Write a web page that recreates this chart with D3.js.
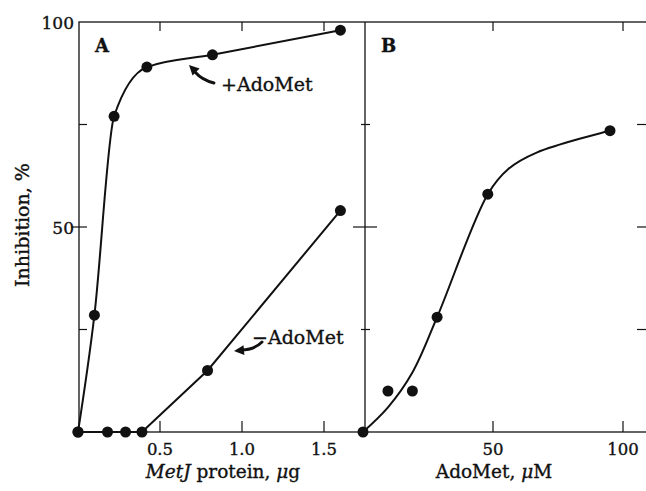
<!DOCTYPE html>
<html>
<head>
<meta charset="utf-8">
<script src="https://cdn.jsdelivr.net/npm/d3@7"></script>
<style>
  body { margin: 0; background: #fff; }
  text { font-family: "DejaVu Serif", "Liberation Serif", serif; fill: #111; stroke: #111; stroke-width: 0.35; }
</style>
</head>
<body>
<svg id="chart" width="646" height="491"></svg>
<script>
// panel A: MetJ protein (ug) vs inhibition (%)
const plusX = [0, 0.1, 0.22, 0.42, 0.82, 1.6];
const plusY = [0, 28.5, 77, 89, 92, 98];
const minusX = [0, 0.18, 0.29, 0.39, 0.79, 1.6];
const minusY = [0, 0, 0, 0, 15, 54];
const aTicks = [0.5, 1.0, 1.5];

// panel B: AdoMet (uM) vs inhibition (%)
const bX = [0, 9.6, 19, 28.5, 48, 95];
const bY = [0, 10, 10, 28, 58, 73.5];
// smooth curve drawn through these (the two low points sit off the curve)
const bCurveX = [0, 9.6, 19, 28.5, 48, 56, 67, 95];
const bCurveY = [0, 6, 14.5, 28, 58, 64.2, 68.2, 73.5];
const bTicks = [50, 100];

const yTicks = [25, 50, 75];
const yLabels = [50, 100];

const svg = d3.select("#chart");
const yTop = 22, yBottom = 432;

const y = d3.scaleLinear().domain([0, 100]).range([yBottom, yTop]);
const xA = d3.scaleLinear().domain([0, 1.75]).range([78, 365]);
const xB = d3.scaleLinear().domain([0, 110]).range([363, 649]);

const ink = "#111";

// frame
svg.append("rect")
  .attr("x", 79).attr("y", yTop)
  .attr("width", 600).attr("height", yBottom - yTop)
  .attr("fill", "none").attr("stroke", ink).attr("stroke-width", 1.3);
svg.append("line")
  .attr("x1", 365).attr("x2", 365).attr("y1", yTop).attr("y2", yBottom)
  .attr("stroke", ink).attr("stroke-width", 1.3);

// y ticks: left edge inward, divider crosses, right edge inward
yTicks.forEach((t) => {
  let big = t === 50;
  svg.append("line")
    .attr("x1", big ? 71 : 79).attr("x2", 87)
    .attr("y1", y(t)).attr("y2", y(t))
    .attr("stroke", ink).attr("stroke-width", 1.2);
  svg.append("line")
    .attr("x1", big ? 353 : 361).attr("x2", big ? 377 : 370)
    .attr("y1", y(t)).attr("y2", y(t))
    .attr("stroke", ink).attr("stroke-width", 1.2);
  svg.append("line")
    .attr("x1", 637).attr("x2", 646)
    .attr("y1", y(t)).attr("y2", y(t))
    .attr("stroke", ink).attr("stroke-width", 1.2);
});

svg.selectAll(".ylab")
  .data(yLabels)
  .enter()
  .append("text")
  .attr("x", 74)
  .attr("y", (d) => y(d) + 7)
  .attr("text-anchor", "end")
  .attr("font-size", 17)
  .text((d) => d);

// x ticks on top and bottom
function xTicks(scale, ticks, fmt) {
  ticks.forEach((t) => {
    svg.append("line")
      .attr("x1", scale(t)).attr("x2", scale(t))
      .attr("y1", yBottom).attr("y2", yBottom - 11)
      .attr("stroke", ink).attr("stroke-width", 1.2);
    svg.append("line")
      .attr("x1", scale(t)).attr("x2", scale(t))
      .attr("y1", yTop).attr("y2", yTop + 9)
      .attr("stroke", ink).attr("stroke-width", 1.2);
    svg.append("text")
      .attr("x", scale(t))
      .attr("y", 455)
      .attr("text-anchor", "middle")
      .attr("font-size", 16.5)
      .text(fmt(t));
  });
}
xTicks(xA, aTicks, d3.format(".1f"));
xTicks(xB, bTicks, (d) => d);

// axis titles
svg.append("text")
  .attr("transform", "translate(29,225) rotate(-90)")
  .attr("text-anchor", "middle")
  .attr("font-size", 19)
  .text("Inhibition, %");

let tA = svg.append("text")
  .attr("x", 223).attr("y", 478)
  .attr("text-anchor", "middle")
  .attr("font-size", 18.5);
tA.append("tspan").attr("font-style", "italic").text("MetJ");
tA.append("tspan").text(" protein, ");
tA.append("tspan").attr("font-style", "italic").text("\u03bc");
tA.append("tspan").text("g");

let tB = svg.append("text")
  .attr("x", 494).attr("y", 478)
  .attr("text-anchor", "middle")
  .attr("font-size", 18.5);
tB.append("tspan").text("AdoMet, ");
tB.append("tspan").attr("font-style", "italic").text("\u03bc");
tB.append("tspan").text("M");

// panel letters
svg.append("text").attr("x", 95).attr("y", 52)
  .attr("font-size", 18).attr("font-weight", "bold").text("A");
svg.append("text").attr("x", 381).attr("y", 52)
  .attr("font-size", 18).attr("font-weight", "bold").text("B");

// lines
function drawLine(xs, ys, sx, curve) {
  let pts = xs.map((v, i) => [sx(v), y(ys[i])]);
  svg.append("path")
    .attr("d", d3.line().curve(curve)(pts))
    .attr("fill", "none")
    .attr("stroke", ink)
    .attr("stroke-width", 2);
}
drawLine(plusX, plusY, xA, d3.curveMonotoneX);
drawLine(minusX, minusY, xA, d3.curveLinear);
drawLine(bCurveX, bCurveY, xB, d3.curveCatmullRom.alpha(0.5));

function drawDots(xs, ys, sx) {
  svg.append("g")
    .selectAll("circle")
    .data(xs.map((v, i) => [v, ys[i]]))
    .enter()
    .append("circle")
    .attr("cx", (d) => sx(d[0]))
    .attr("cy", (d) => y(d[1]))
    .attr("r", 5.5)
    .attr("fill", ink);
}
drawDots(plusX, plusY, xA);
drawDots(minusX, minusY, xA);
drawDots(bX, bY, xB);

// labels with curved arrows
svg.append("text").attr("x", 221).attr("y", 91)
  .attr("font-size", 19).text("+AdoMet");
svg.append("text").attr("x", 252).attr("y", 344)
  .attr("font-size", 19).text("\u2212AdoMet");

function arrow(path, tip, angle) {
  svg.append("path")
    .attr("d", path)
    .attr("fill", "none")
    .attr("stroke", ink)
    .attr("stroke-width", 3)
    .attr("stroke-linecap", "round");
  svg.append("path")
    .attr("d", "M0,0 L10,-5 L10,5 Z")
    .attr("transform", `translate(${tip[0]},${tip[1]}) rotate(${angle})`)
    .attr("fill", ink);
}
arrow("M214,83 Q202,80 195,72", [189, 65], 45);
arrow("M262,342 Q254,350 241,350", [234, 351], -5);
</script>
</body>
</html>
